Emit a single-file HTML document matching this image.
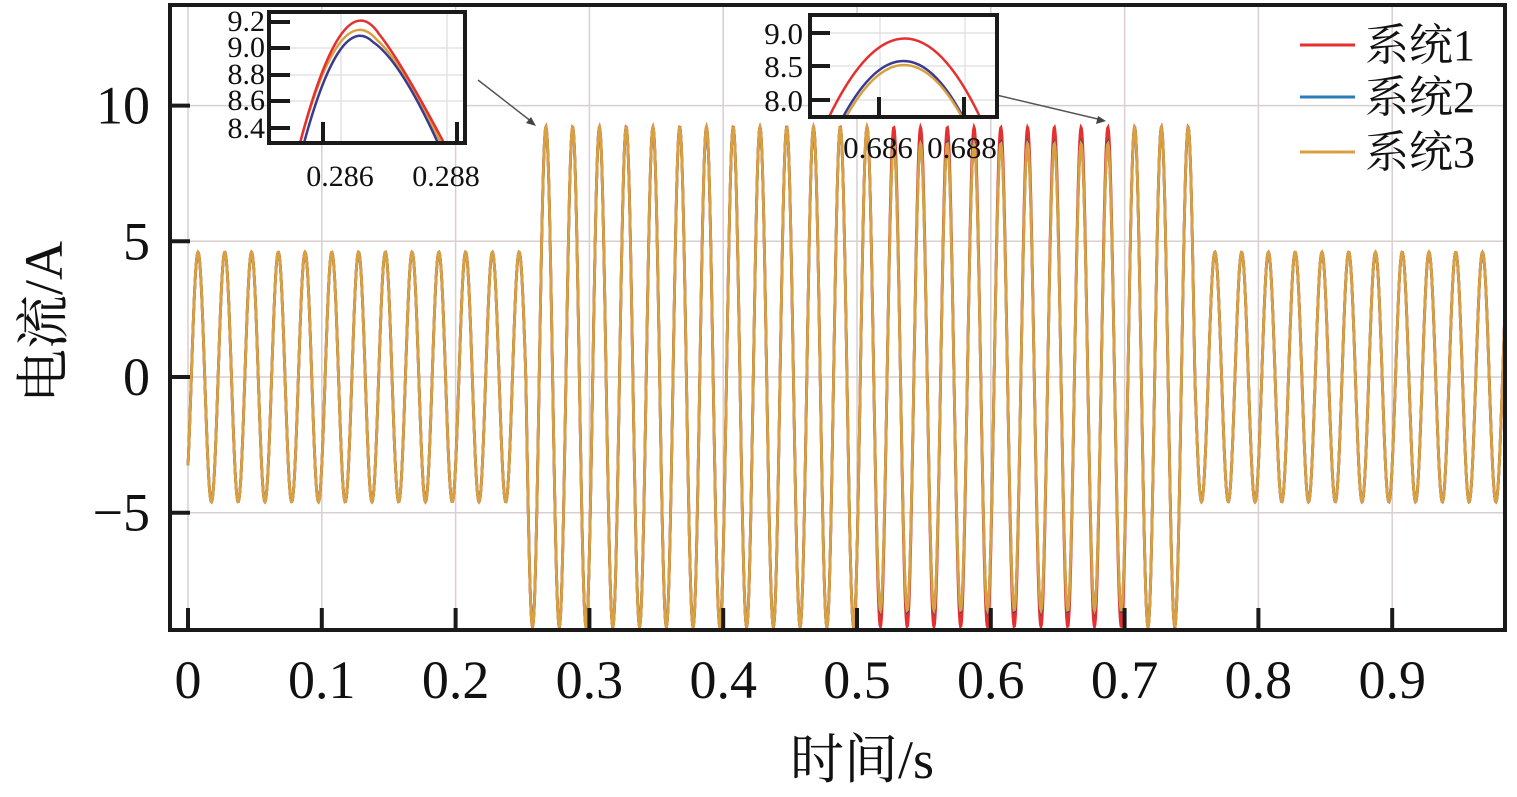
<!DOCTYPE html>
<html><head><meta charset="utf-8"><style>
body{margin:0;background:#fff;}
svg text{font-family:"Liberation Serif","Noto Serif CJK SC",serif;fill:#111;}
</style></head><body>
<svg id="s" width="1517" height="792" xmlns="http://www.w3.org/2000/svg">
<g id="grid" stroke="#d9cfcf" stroke-width="1.5"></g>
<g id="data" fill="none" stroke-width="2.8"></g>
<rect x="170" y="5" width="1335" height="625" fill="none" stroke="#1a1a1a" stroke-width="4"/>
<g id="ticks" stroke="#1a1a1a" stroke-width="4"></g>
<g id="lab" font-size="54"></g>
<text x="862" y="778" font-size="54" text-anchor="middle">时间/s</text>
<text transform="translate(62,322) rotate(-90)" font-size="54" text-anchor="middle">电流/A</text>
<line x1="1300" y1="45" x2="1355" y2="45" stroke="#e53030" stroke-width="3"/>
<line x1="1300" y1="97" x2="1355" y2="97" stroke="#2b7bb9" stroke-width="3"/>
<line x1="1300" y1="152" x2="1355" y2="152" stroke="#d9a040" stroke-width="3"/>
<text x="1365" y="60" font-size="44">系统1</text>
<text x="1365" y="112" font-size="44">系统2</text>
<text x="1365" y="167" font-size="44">系统3</text>
<line x1="478" y1="80" x2="532" y2="122" stroke="#555" stroke-width="1.5"/>
<polygon points="536,126 526,123 531,117" fill="#444"/>
<line x1="988" y1="93" x2="1102" y2="120" stroke="#555" stroke-width="1.5"/>
<polygon points="1106,121 1096,124 1098,116" fill="#444"/>
<g>
<rect x="269" y="12" width="196" height="131" fill="#fff"/>
<g stroke="#ddd" stroke-width="1.2">
<line x1="341" y1="12" x2="341" y2="143"/><line x1="447" y1="12" x2="447" y2="143"/>
<line x1="269" y1="48" x2="465" y2="48"/><line x1="269" y1="75" x2="465" y2="75"/><line x1="269" y1="101" x2="465" y2="101"/>
</g>
<path d="M300,143 Q340,-4 377,40 Q400,60 441,143" fill="none" stroke="#d9a040" stroke-width="2.5"/>
<path d="M300,143 Q343,-20 379,34 Q400,60 444,143" fill="none" stroke="#e53030" stroke-width="2.5"/>
<path d="M304,143 Q340,10 373,42 Q400,60 438,143" fill="none" stroke="#3a3a90" stroke-width="2.5"/>
<rect x="269" y="12" width="196" height="131" fill="none" stroke="#1a1a1a" stroke-width="4"/>
<g stroke="#1a1a1a" stroke-width="4"><line x1="269" y1="22" x2="290" y2="22"/><line x1="269" y1="48" x2="290" y2="48"/><line x1="269" y1="75" x2="290" y2="75"/><line x1="269" y1="101" x2="290" y2="101"/><line x1="269" y1="128" x2="290" y2="128"/><line x1="323" y1="122" x2="323" y2="143"/><line x1="457" y1="122" x2="457" y2="143"/></g>
<g font-size="30" text-anchor="end"><text x="265" y="31">9.2</text><text x="265" y="57">9.0</text><text x="265" y="84">8.8</text><text x="265" y="110">8.6</text><text x="265" y="138">8.4</text></g>
<g font-size="30" text-anchor="middle"><text x="340" y="186">0.286</text><text x="446" y="186">0.288</text></g>
</g>
<g>
<rect x="810" y="15" width="187" height="102" fill="#fff"/>
<g stroke="#ddd" stroke-width="1.2">
<line x1="880" y1="15" x2="880" y2="117"/><line x1="965" y1="15" x2="965" y2="117"/>
<line x1="810" y1="33" x2="997" y2="33"/><line x1="810" y1="66" x2="997" y2="66"/><line x1="810" y1="100" x2="997" y2="100"/>
</g>
<path d="M829,117 Q905,-40 980,117" fill="none" stroke="#e53030" stroke-width="2.5"/>
<path d="M843,117 Q904,5 963,117" fill="none" stroke="#3a3a90" stroke-width="2.5"/>
<path d="M846,117 Q904,13 962,117" fill="none" stroke="#d9a040" stroke-width="2.5"/>
<rect x="810" y="15" width="187" height="102" fill="none" stroke="#1a1a1a" stroke-width="4"/>
<g stroke="#1a1a1a" stroke-width="4"><line x1="810" y1="33" x2="830" y2="33"/><line x1="810" y1="66" x2="830" y2="66"/><line x1="810" y1="100" x2="830" y2="100"/><line x1="879" y1="97" x2="879" y2="117"/><line x1="964" y1="97" x2="964" y2="117"/></g>
<g font-size="31" text-anchor="end"><text x="803" y="44">9.0</text><text x="803" y="77">8.5</text><text x="803" y="111">8.0</text></g>
<g font-size="31" text-anchor="middle"><text x="878" y="158">0.686</text><text x="962" y="158">0.688</text></g>
</g>
</svg>
<script>
var NS="http://www.w3.org/2000/svg";
function X(t){return 188+t*1338;}
function Y(v){return 377-v*27.14;}
function el(p,tag,a){var e=document.createElementNS(NS,tag);for(var k in a)e.setAttribute(k,a[k]);p.appendChild(e);return e;}
var g=document.getElementById('grid'),tk=document.getElementById('ticks'),lb=document.getElementById('lab');
for(var i=0;i<=9;i++){var x=X(i/10);el(g,'line',{x1:x,y1:5,x2:x,y2:630});el(tk,'line',{x1:x,y1:608,x2:x,y2:630});
var t=el(lb,'text',{x:x,y:698,'text-anchor':'middle'});t.textContent=i==0?'0':'0.'+i;}
[10,5,0,-5].forEach(function(v){var y=Y(v);el(g,'line',{x1:170,y1:y,x2:1505,y2:y});el(tk,'line',{x1:170,y1:y,x2:190,y2:y});
var t=el(lb,'text',{x:150,y:y+18,'text-anchor':'end'});t.textContent=v<0?'\u2212'+(-v):''+v;});
function amp(t,s){if(t<0.2525||t>=0.7525)return 4.6;if(t>=0.5125&&t<0.7025){return s==1?9.2:(s==2?8.65:8.6);}return s==1?9.22:(s==2?9.18:9.2);}
var d=document.getElementById('data');
var cp=el(d,'clipPath',{id:'c'});el(cp,'rect',{x:170,y:5,width:1335,height:625});
[[1,'#e53030'],[2,'#3a3a90'],[3,'#d9a040']].forEach(function(s){var p='';
for(var px=188;px<=1505;px+=0.5){var t=(px-188)/1338;var v=amp(t,s[0])*Math.sin(2*Math.PI*50*t-0.785);
p+=(p?'L':'M')+px.toFixed(1)+','+Y(v).toFixed(1);}
el(d,'path',{d:p,stroke:s[1],'clip-path':'url(#c)'});});
</script>
</body></html>
